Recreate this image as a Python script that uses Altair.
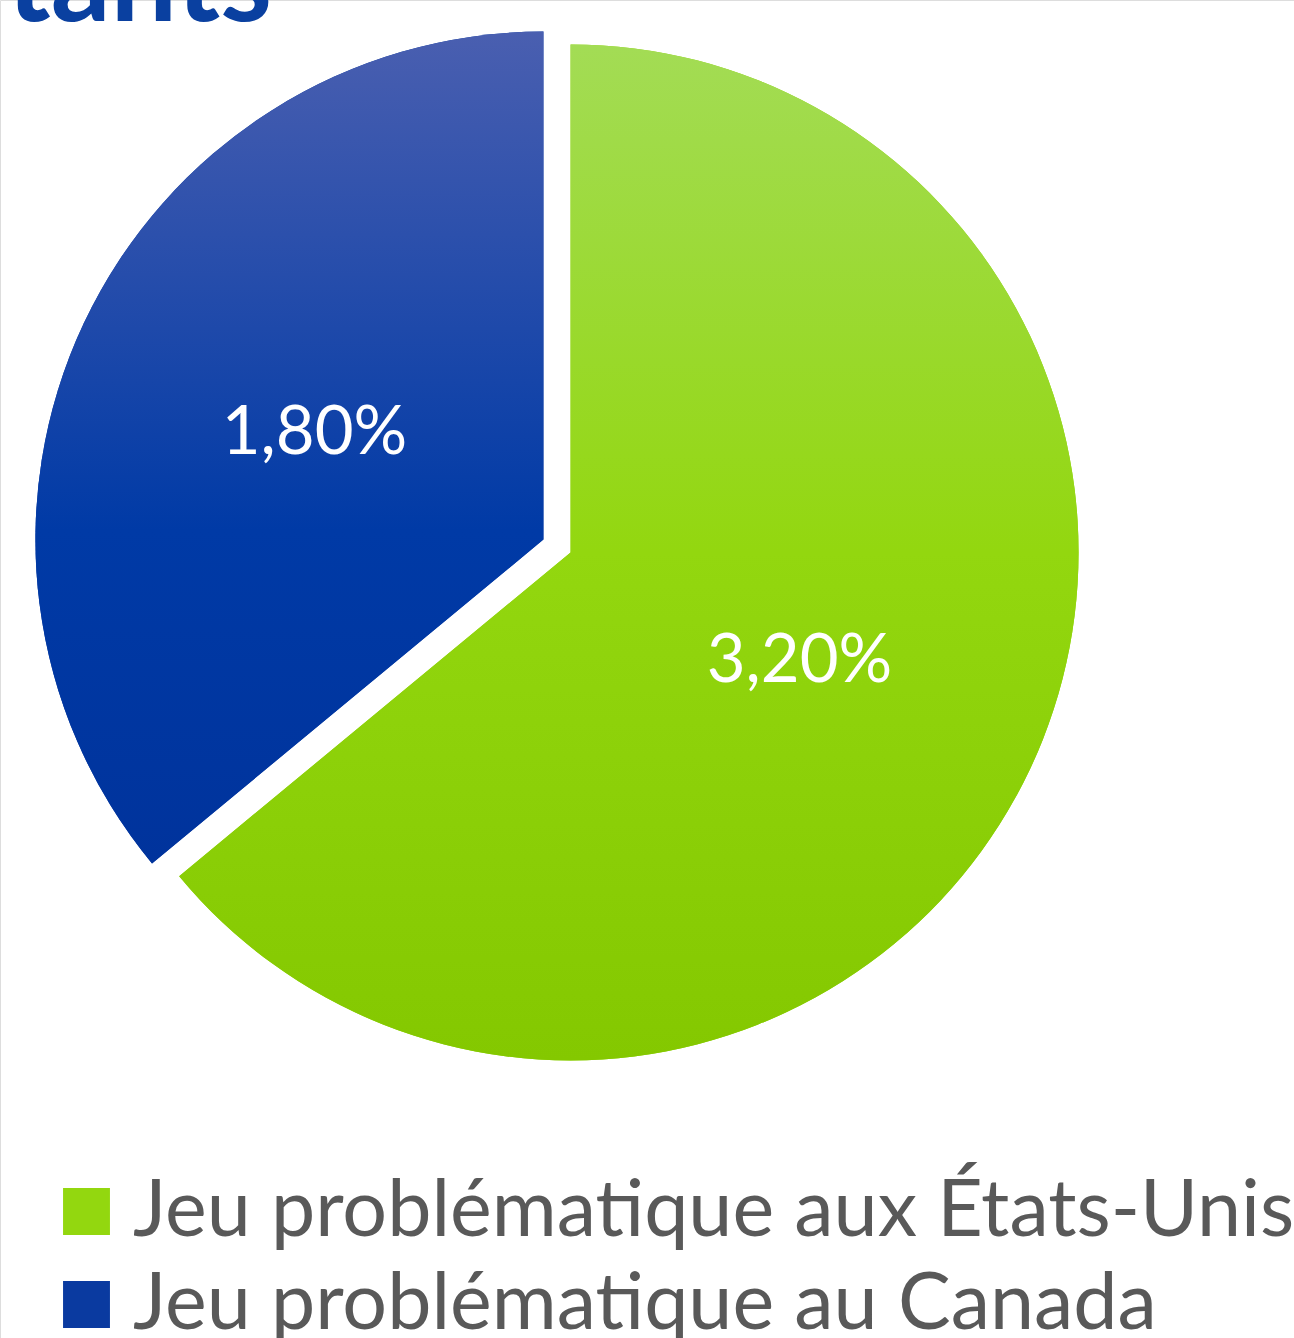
import altair as alt
import pandas as pd

categories = ["Jeu problématique aux États-Unis", "Jeu problématique au Canada"]
values = [3.20, 1.80]
labels = ["3,20%", "1,80%"]
order = [0, 1]

df = pd.DataFrame({"cat": categories, "value": values, "label": labels, "ord": order})

CX, CY, R, EXPLODE, LR = 557, 546, 508, 15, 253

base = alt.Chart(df).transform_window(
    cum="sum(value)", sort=[alt.SortField("ord")], frame=[None, 0]
).transform_joinaggregate(
    total="sum(value)"
).transform_calculate(
    start="2*PI*(datum.cum - datum.value)/datum.total",
    end="2*PI*datum.cum/datum.total",
).transform_calculate(
    mid="(datum.start + datum.end)/2",
).transform_calculate(
    cx=f"{CX} + {EXPLODE}*sin(datum.mid)",
    cy=f"{CY} - {EXPLODE}*cos(datum.mid)",
).transform_calculate(
    lx=f"datum.cx + {LR}*sin(datum.mid)",
    ly=f"datum.cy - {LR}*cos(datum.mid)",
)

enc = dict(
    theta=alt.Theta("start:Q", scale=None),
    theta2="end:Q",
    x=alt.X("cx:Q", scale=None, axis=None),
    y=alt.Y("cy:Q", scale=None, axis=None),
)

solid = base.mark_arc(radius=R).encode(
    color=alt.Color(
        "cat:N",
        scale=alt.Scale(domain=categories, range=["#93d70f", "#0a3aa0"]),
        sort=categories,
        legend=alt.Legend(
            title=None,
            orient="none",
            legendX=47,
            legendY=1172,
            symbolType="square",
            symbolSize=2200,
            symbolStrokeWidth=0,
            labelFontSize=79,
            labelFont="Lato",
            labelColor="#595959",
            labelLimit=2000,
            labelOffset=7,
            rowPadding=13,
        ),
    ),
    **enc,
)

green_grad = alt.Gradient(
    gradient="linear", x1=0, y1=0, x2=0, y2=1,
    stops=[alt.GradientStop(offset=0, color="#a3dc55"),
           alt.GradientStop(offset=0.5, color="#93d70f"),
           alt.GradientStop(offset=1, color="#84c800")],
)
blue_grad = alt.Gradient(
    gradient="linear", x1=0, y1=0, x2=0, y2=1,
    stops=[alt.GradientStop(offset=0, color="#4a5fb0"),
           alt.GradientStop(offset=0.6, color="#003aa6"),
           alt.GradientStop(offset=1, color="#00339c")],
)

green = base.transform_filter(alt.datum.ord == 0).mark_arc(radius=R, fill=green_grad).encode(**enc)
blue = base.transform_filter(alt.datum.ord == 1).mark_arc(radius=R, fill=blue_grad).encode(**enc)

text = base.mark_text(
    font="Lato", fontSize=67, color="white", baseline="middle", align="center", dy=2
).encode(
    x=alt.X("lx:Q", scale=None, axis=None),
    y=alt.Y("ly:Q", scale=None, axis=None),
    text="label:N",
)

title = alt.Chart(pd.DataFrame({"t": ["habitants"]})).mark_text(
    font="Lato", fontWeight="bold", fontSize=118, color="#0a40a0",
    align="right", baseline="alphabetic"
).encode(x=alt.value(272), y=alt.value(21), text="t:N")

chart = alt.layer(solid, green, blue, text, title).properties(
    width=1294, height=1338, padding=0, autosize=alt.AutoSizeParams(type="none")
).configure_view(stroke=None).configure(background="white")

chart.save("out.html", embed_options={"renderer": "svg", "actions": False})
